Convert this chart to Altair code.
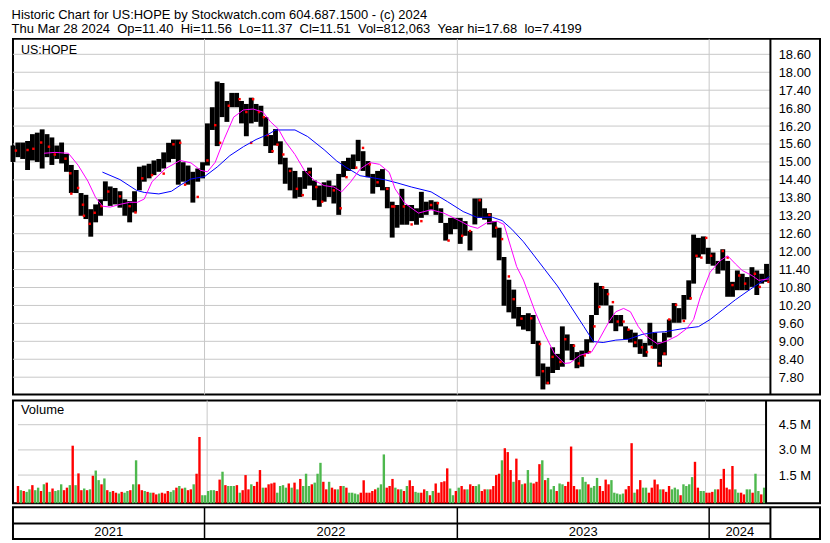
import altair as alt
import pandas as pd

FONT = "Liberation Sans"
TITLE_LINES = [
    "Historic Chart for US:HOPE by Stockwatch.com 604.687.1500 - (c) 2024",
    "Thu Mar 28 2024 \u00a0Op=11.40 \u00a0Hi=11.56 \u00a0Lo=11.37 \u00a0Cl=11.51 \u00a0Vol=812,063 \u00a0Year hi=17.68 \u00a0lo=7.4199",
]
SYMBOL = "US:HOPE"
VOLUME_LABEL = "Volume"

# ---- price bars: high / low envelope per 5 trading days (x = trading-day index) ----
price_step = 5
price_hi = [
    15.55, 15.65, 15.65, 15.70, 15.93, 15.98, 16.09, 15.93, 15.82, 15.55,
    15.65, 15.27, 14.90, 14.73, 13.96, 13.90, 13.42, 13.58, 13.75, 14.35,
    14.18, 14.13, 14.02, 13.75, 13.69, 14.02, 14.84, 14.88, 14.94, 15.05,
    15.10, 15.32, 15.64, 15.75, 15.75, 14.99, 14.88, 14.67, 14.78, 14.99,
    16.29, 16.83, 17.69, 17.64, 17.04, 17.31, 17.31, 17.04, 16.94, 17.15,
    16.94, 16.88, 16.50, 15.90, 16.10, 15.69, 15.14, 14.81, 14.70, 14.49,
    14.70, 14.81, 14.38, 14.21, 14.32, 14.38, 14.21, 14.60, 15.03, 15.14,
    15.25, 15.74, 15.36, 15.03, 14.60, 14.70, 14.76, 14.16, 13.67, 13.56,
    14.10, 13.56, 13.56, 13.45, 14.00, 13.67, 13.72, 13.67, 13.45, 12.96,
    13.13, 13.13, 13.13, 13.02, 12.69, 13.78, 13.78, 13.45, 13.29, 13.02,
    12.80, 11.82, 11.06, 10.73, 10.15, 9.88, 9.94, 9.88, 9.02, 8.26,
    8.15, 8.80, 8.58, 9.50, 9.23, 8.91, 8.64, 8.69, 9.07, 9.88,
    10.96, 10.85, 10.75, 10.20, 9.88, 9.88, 9.50, 9.39, 9.29, 9.07,
    8.95, 9.62, 9.29, 8.97, 9.29, 9.73, 10.28, 10.11, 10.55, 11.04,
    12.57, 12.46, 12.51, 12.13, 11.97, 11.69, 12.08, 11.69, 10.99, 11.37,
    11.26, 11.15, 11.48, 11.37, 11.26, 11.59,
]
price_lo = [
    15.00, 15.16, 15.10, 14.73, 15.05, 15.00, 14.78, 15.16, 14.90, 15.10,
    14.95, 14.67, 13.96, 13.96, 13.20, 13.09, 12.50, 12.98, 13.20, 13.69,
    13.53, 13.58, 13.47, 13.20, 12.98, 13.31, 14.05, 14.34, 14.45, 14.56,
    14.67, 14.78, 14.99, 15.10, 14.24, 14.34, 14.24, 13.64, 14.34, 14.45,
    14.88, 16.07, 15.53, 16.50, 16.34, 16.83, 16.83, 16.29, 15.86, 16.29,
    16.34, 16.18, 15.53, 15.30, 15.55, 14.92, 14.27, 14.05, 13.78, 13.83,
    14.10, 14.21, 13.72, 13.50, 13.67, 13.83, 13.61, 13.23, 14.49, 14.70,
    14.76, 15.03, 14.70, 14.49, 13.94, 14.16, 14.05, 13.45, 12.47, 12.80,
    12.90, 12.90, 13.02, 12.90, 13.13, 13.23, 13.40, 13.23, 12.96, 12.37,
    12.58, 12.75, 12.26, 12.53, 12.04, 12.91, 13.13, 13.07, 12.91, 12.47,
    11.71, 10.19, 9.97, 9.76, 9.50, 9.39, 9.34, 8.91, 7.83, 7.39,
    7.56, 7.94, 8.04, 8.15, 8.69, 8.37, 8.10, 8.15, 8.58, 8.96,
    9.88, 10.20, 10.20, 9.61, 9.34, 9.50, 9.07, 8.96, 8.80, 8.58,
    8.48, 8.86, 8.75, 8.15, 8.53, 9.13, 9.62, 9.62, 9.73, 10.39,
    10.93, 11.80, 11.91, 11.59, 11.53, 11.26, 11.37, 10.49, 10.49, 10.71,
    10.71, 10.71, 10.82, 10.55, 10.93, 10.99,
]
price_day = list(range(0, price_step * len(price_hi), price_step))

# ---- moving averages (day, price) ----
ma_short_day = [32, 43, 57, 67, 77, 85, 92, 100, 110, 120, 128, 135, 143, 157, 172, 183, 193, 200,
                208, 217, 227, 237, 247, 257, 265, 273, 280, 290, 300, 310, 320, 330, 338, 347,
                357, 367, 377, 387, 393, 403, 417, 430, 443, 457, 470, 478, 487, 498, 505, 512,
                518, 525, 537, 547, 557, 567, 573, 583, 595, 603, 613, 620, 628, 635, 643, 650,
                663, 673, 683, 693, 700, 707, 717, 727, 735, 743, 750, 760, 767, 778]
ma_short_val = [15.29, 15.32, 15.29, 14.89, 14.36, 13.81, 13.52, 13.49, 13.58, 13.65, 13.65, 13.76,
                14.34, 14.78, 15.05, 14.97, 14.72, 14.67, 14.99, 15.75, 16.50, 16.74, 16.77, 16.67,
                16.34, 16.10, 15.69, 15.25, 14.70, 14.38, 14.21, 14.16, 14.00, 14.32, 14.76, 14.98,
                14.92, 14.65, 14.10, 13.62, 13.29, 13.40, 13.29, 13.07, 12.85, 12.78, 12.96, 13.02,
                12.91, 12.15, 11.50, 11.05, 9.99, 9.23, 8.58, 8.26, 8.28, 8.53, 8.64, 9.07, 9.66,
                9.99, 10.10, 9.99, 9.50, 9.20, 8.91, 9.02, 9.18, 9.43, 9.73, 10.49, 11.31, 11.69,
                11.86, 11.59, 11.37, 11.20, 11.04, 11.09]
ma_long_day = [92, 110, 127, 135, 150, 163, 173, 183, 197, 210, 223, 237, 250, 263, 270, 290, 303,
               320, 333, 343, 357, 370, 383, 395, 410, 430, 447, 463, 477, 493, 503, 513, 525, 547,
               560, 573, 587, 597, 607, 620, 633, 647, 660, 670, 690, 705, 717, 730, 743, 757, 767, 778]
ma_long_val = [14.66, 14.41, 14.05, 13.98, 13.93, 14.02, 14.24, 14.43, 14.51, 14.83, 15.21, 15.51,
               15.75, 15.93, 16.07, 16.07, 15.85, 15.41, 15.03, 14.81, 14.54, 14.47, 14.40, 14.30,
               14.16, 14.00, 13.67, 13.34, 13.15, 13.15, 13.04, 12.75, 12.33, 11.40, 10.85, 10.20,
               9.50, 8.99, 8.96, 9.04, 9.07, 9.23, 9.30, 9.32, 9.43, 9.49, 9.73, 10.06, 10.39,
               10.71, 10.93, 11.17]

# ---- red markers seen on the bars (day, price) ----
red_day = [3, 15, 21, 29, 37, 43, 54, 59, 67, 60, 72, 73, 79, 84, 91, 98, 110, 120, 126, 133,
           143, 155, 165, 172, 177, 190, 200, 208, 213, 222, 233, 240, 247, 258, 253, 245,
           262, 272, 267, 278, 285, 292, 298, 305, 312, 318, 330, 337, 343, 353, 360, 367, 375, 385, 390,
           392, 402, 410, 420, 430, 437, 448, 462, 470, 480, 490, 497, 503, 510, 515, 523,
           533, 542, 545, 550, 555, 563, 568, 577, 582, 588, 593, 598, 603, 607, 612, 617, 622, 628,
           633, 640, 647, 652, 657, 665, 670, 675, 682, 690, 697, 703, 708, 713, 718, 730, 735,
           740, 747, 753, 763, 768, 777]
red_val = [15.38, 15.40, 15.44, 15.65, 15.51, 15.25, 15.11, 14.62, 14.13, 13.94, 13.57, 13.20,
           12.93, 13.30, 13.52, 14.01, 13.85, 13.52, 13.31, 14.45,
           14.56, 14.61, 15.59, 15.64, 14.24, 13.83, 15.05, 16.23, 15.64, 16.88, 17.10, 16.67,
           17.10, 16.50, 16.67, 15.64,
           15.90, 15.58, 15.36, 15.25, 14.70, 14.10, 13.89, 14.65, 14.16, 13.67, 14.05, 13.45,
           14.49, 14.81, 15.47, 14.92, 14.32, 14.10, 13.51,
           13.51, 13.51, 12.91, 13.02, 13.56, 13.62, 12.37, 12.53, 12.69, 13.72, 13.23, 12.80,
           12.42, 11.17, 10.41, 9.76,
           9.77, 8.91, 8.00, 7.61, 8.48, 8.31, 9.07, 8.85, 8.26, 8.53, 8.64, 9.50, 10.15, 10.80,
           10.58, 10.31, 9.66, 9.66, 9.39, 8.96, 8.80, 8.64, 8.80, 8.26, 8.59, 9.73, 10.22, 9.68,
           10.44, 11.86, 11.80, 12.46, 11.86, 12.02, 11.80, 10.88, 11.20, 10.93, 11.26, 10.82,
           10.99]

# ---- volume (millions) every 3 trading days, colour r = down, g = up ----
vol_step = 3
vol_m = [
    0.85, 0.6, 0.55, 0.5, 0.65, 0.9, 0.6, 0.75, 0.55, 0.95, 1.05, 0.5, 0.7, 0.55, 0.6, 0.95, 0.6, 0.75, 0.9, 3.25,
    0.9, 1.6, 0.6, 0.7, 0.6, 0.65, 1.46, 1.77, 1.2, 0.95, 1.3, 0.6, 0.5, 0.55, 0.45, 0.4, 0.5, 0.45, 0.55, 0.6,
    0.95, 2.38, 0.95, 0.6, 0.55, 0.5, 0.45, 0.45, 0.35, 0.4, 0.45, 0.4, 0.55, 0.5, 0.6, 0.75, 0.85, 0.7, 0.75, 0.6,
    0.65, 0.95, 1.58, 3.77, 0.3, 0.3, 0.55, 0.6, 0.6, 0.55, 1.23, 1.7, 0.9, 0.85, 0.85, 0.85, 0.9, 0.45, 0.6, 1.5,
    0.65, 0.95, 0.85, 1.1, 1.8, 0.75, 0.75, 0.95, 1.0, 1.05, 0.45, 0.85, 0.9, 0.75, 1.0, 0.75, 1.05, 0.65, 1.27, 0.85,
    1.58, 0.85, 0.95, 1.05, 1.58, 2.23, 1.1, 0.65, 1.1, 0.75, 0.65, 0.65, 0.85, 0.85, 0.75, 0.45, 0.45, 0.4, 0.35, 0.45,
    1.19, 0.45, 0.45, 0.55, 0.65, 0.75, 0.95, 2.73, 0.75, 0.85, 1.27, 0.75, 0.65, 0.65, 0.55, 0.85, 1.19, 0.85, 0.5, 0.45,
    0.45, 0.65, 0.55, 0.3, 0.55, 1.0, 0.45, 1.08, 1.13, 1.9, 0.7, 0.3, 0.55, 0.75, 0.85, 0.65, 0.65, 0.95, 0.85, 0.85,
    0.95, 0.55, 0.65, 0.65, 0.65, 0.85, 1.5, 1.58, 2.38, 3.1, 2.87, 1.8, 1.1, 2.48, 1.2, 0.95, 1.0, 1.8, 1.05, 1.0,
    1.1, 2.15, 2.38, 1.2, 1.33, 0.65, 0.85, 0.55, 1.0, 0.95, 0.85, 1.1, 3.2, 0.85, 0.65, 0.65, 1.38, 1.1, 0.95, 0.75,
    0.85, 1.33, 0.85, 0.55, 1.23, 0.95, 1.2, 0.45, 0.4, 0.35, 0.4, 0.65, 0.85, 3.4, 0.45, 0.65, 1.2, 0.75, 0.75, 0.45,
    0.75, 1.23, 0.95, 0.65, 0.65, 0.5, 0.85, 0.65, 0.75, 0.65, 0.3, 0.95, 0.85, 0.95, 1.38, 2.29, 0.75, 0.55, 0.55, 0.45,
    0.45, 0.5, 0.65, 0.65, 1.27, 1.87, 0.75, 0.65, 2.04, 0.65, 0.45, 0.45, 0.35, 0.65, 0.65, 0.45, 1.58, 0.55, 0.35, 0.75,
]
vol_dir = (
    "rgrggrggrgrgrgggrrgr" "grrgrgrggrgrgrrgrggr" "ggrrgrgrrgrrrggrgrgr"
    "rgrrgggggrrgrgggrgrr" "rgrrrgrrrrggggrgrgrg" "ggrgggrrgrrgrgrggggr"
    "rrrrrgggrrrgrgrgrrgg" "rrgrgrrrrrggrgrrgrrg" "grrgrrrrgrrrgrrgrggr"
    "rrgrgggrggrrrrrgggrg" "ggrrrrgggggrrrgrrggr" "rrrgrrrgggrggggrrggr"
    "rrgrrrrrrggrrggrggrg"
)
vol_day = list(range(0, vol_step * len(vol_m), vol_step))

price_ticks = [7.8, 8.4, 9.0, 9.6, 10.2, 10.8, 11.4, 12.0, 12.6, 13.2, 13.8, 14.4,
               15.0, 15.6, 16.2, 16.8, 17.4, 18.0, 18.6]
vol_ticks = [1.5, 3.0, 4.5]
year_start_day = [197, 457, 716]
year_labels = ["2021", "2022", "2023", "2024"]
END_DAY = 779

# ---- layout ----
PW, PH, VH, DH = 810, 357, 103, 32
XS = alt.Scale(domain=[0, 830], nice=False, zero=False)
PS = alt.Scale(domain=[7.219, 19.117], nice=False, zero=False)
VMIN = -0.173
VS = alt.Scale(domain=[VMIN, 5.94], nice=False, zero=False)
AX_OFF = -round((830 - END_DAY) * PW / 830)
GRID = "#c8c8c8"
RED, GREEN = "#ff0000", "#4db84d"

PAX = alt.Axis(orient="right", values=price_ticks, format=".2f", offset=AX_OFF, labelPadding=8,
               grid=False, ticks=False, domain=False, labelFont=FONT, labelFontSize=13,
               labelColor="black", title=None, zindex=2, labelOverlap=False)
VAX = alt.Axis(orient="right", values=vol_ticks, labelExpr="format(datum.value, '.1f') + ' M'",
               offset=AX_OFF, labelPadding=8, grid=False, ticks=False, domain=False,
               labelFont=FONT, labelFontSize=13, labelColor="black", title=None, zindex=2,
               labelOverlap=False)


def xq(field):
    return alt.X(field, type="quantitative", scale=XS, axis=None)


def yp(field):
    return alt.Y(field, type="quantitative", scale=PS, axis=PAX)


def yv(field):
    return alt.Y(field, type="quantitative", scale=VS, axis=VAX)


year_df = pd.DataFrame({"d": year_start_day})
sep_df = pd.DataFrame({"d": [END_DAY]})

# price panel
p_grid = alt.Chart(pd.DataFrame({"p": price_ticks, "x0": 0, "x1": END_DAY})).mark_rule(
    color=GRID, strokeWidth=1).encode(y=yp("p"), x=xq("x0"), x2="x1:Q")
p_years = alt.Chart(year_df).mark_rule(color=GRID, strokeWidth=1).encode(
    x=xq("d"), y=alt.value(0), y2=alt.value(PH))
p_bars = alt.Chart(pd.DataFrame({"d": price_day, "hi": price_hi, "lo": price_lo})).mark_rule(
    color="black", strokeWidth=4.9).encode(x=xq("d"), y=yp("lo"), y2="hi:Q")
p_red = alt.Chart(pd.DataFrame({"d": red_day, "p": red_val})).mark_square(
    color=RED, size=6, opacity=1).encode(x=xq("d"), y=yp("p"))
p_long = alt.Chart(pd.DataFrame({"d": ma_long_day, "p": ma_long_val})).mark_line(
    color="#0000ff", strokeWidth=1).encode(x=xq("d"), y=yp("p"))
p_short = alt.Chart(pd.DataFrame({"d": ma_short_day, "p": ma_short_val})).mark_line(
    color="#ff00ff", strokeWidth=1).encode(x=xq("d"), y=yp("p"))
p_sep = alt.Chart(sep_df).mark_rule(color="black", strokeWidth=2).encode(
    x=xq("d"), y=alt.value(0), y2=alt.value(PH))
p_sym = alt.Chart(pd.DataFrame({"t": [SYMBOL]})).mark_text(
    align="left", baseline="middle", font=FONT, fontSize=12.5, color="black").encode(
    x=alt.value(8), y=alt.value(11), text="t:N")
price = alt.layer(p_grid, p_years, p_bars, p_red, p_long, p_short, p_sep, p_sym).properties(
    width=PW, height=PH)

# volume panel
v_grid = alt.Chart(pd.DataFrame({"v": vol_ticks, "x0": 0, "x1": END_DAY})).mark_rule(
    color=GRID, strokeWidth=1).encode(y=yv("v"), x=xq("x0"), x2="x1:Q")
v_years = alt.Chart(year_df).mark_rule(color=GRID, strokeWidth=1).encode(
    x=xq("d"), y=alt.value(0), y2=alt.value(VH))
vol_df = pd.DataFrame({"d": vol_day, "v": vol_m, "base": VMIN,
                       "c": [RED if ch == "r" else GREEN for ch in vol_dir]})
v_bars = alt.Chart(vol_df).mark_bar(size=2.4).encode(
    x=xq("d"), y=yv("v"), y2="base:Q", color=alt.Color("c:N", scale=None))
v_sep = alt.Chart(sep_df).mark_rule(color="black", strokeWidth=2).encode(
    x=xq("d"), y=alt.value(0), y2=alt.value(VH))
v_lab = alt.Chart(pd.DataFrame({"t": [VOLUME_LABEL]})).mark_text(
    align="left", baseline="middle", font=FONT, fontSize=13, color="black").encode(
    x=alt.value(8), y=alt.value(10), text="t:N")
volume = alt.layer(v_grid, v_years, v_bars, v_sep, v_lab).properties(width=PW, height=VH)

# date panel
edges = [0] + year_start_day + [END_DAY]
mids = [(edges[i] + edges[i + 1]) / 2 for i in range(len(year_labels))]
d_years = alt.Chart(year_df).mark_rule(color="black", strokeWidth=1.5).encode(
    x=xq("d"), y=alt.value(0), y2=alt.value(DH))
d_sep = alt.Chart(sep_df).mark_rule(color="black", strokeWidth=2).encode(
    x=xq("d"), y=alt.value(0), y2=alt.value(DH))
d_mid = alt.Chart(pd.DataFrame({"x0": [0], "x1": [END_DAY]})).mark_rule(
    color="black", strokeWidth=2).encode(x=xq("x0"), x2="x1:Q", y=alt.value(16.5))
d_text = alt.Chart(pd.DataFrame({"m": mids, "t": year_labels})).mark_text(
    align="center", baseline="middle", font=FONT, fontSize=13, color="black").encode(
    x=xq("m"), y=alt.value(24.5), text="t:N")
date = alt.layer(d_years, d_sep, d_mid, d_text).properties(width=PW, height=DH)

lower = alt.vconcat(volume, date, spacing=0)
chart = alt.vconcat(price, lower, spacing=2).properties(
    title=alt.TitleParams(text=TITLE_LINES, anchor="start", font=FONT, fontSize=13,
                          fontWeight="normal", color="black", lineHeight=14, offset=1, dx=2),
    padding={"left": 1, "top": 0, "right": 1, "bottom": 1},
    background="white",
).configure_view(stroke="black", strokeWidth=2)

chart.save("out.html", embed_options={"renderer": "svg", "actions": False})
